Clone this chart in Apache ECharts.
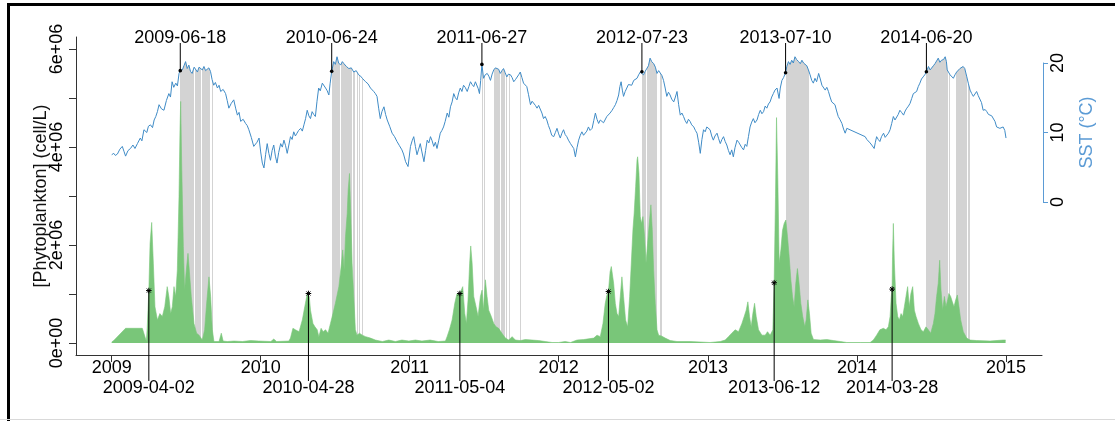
<!DOCTYPE html>
<html>
<head>
<meta charset="utf-8">
<script src="https://cdn.jsdelivr.net/npm/echarts@6/dist/echarts.min.js"></script>
<style>
  html, body { margin: 0; padding: 0; background: #fff; overflow: hidden; }
  #chart { position: absolute; left: 0; top: 0; width: 1115px; height: 421px; }
  #frame { position: absolute; left: 7px; top: 3px; width: 1200px; height: 430px;
           border-top: 3px solid #000; border-left: 3px solid #000; pointer-events: none; }
  #bottomLine { position: absolute; left: 0; top: 419px; width: 1115px; height: 1px; background: #d9d9d9; }
</style>
</head>
<body>
<div id="chart"></div>
<div id="frame"></div>
<div id="bottomLine"></div>
<script>
// ---------------- DATA (x = days since 2009-01-01) ----------------
const originDate = '2009-01-01';
const yearLabels = ['2009', '2010', '2011', '2012', '2013', '2014', '2015'];

// Sea surface temperature, °C : [day, value]
const sst = [
[0,6.8],[5,7.0],[9,6.7],[14,6.9],[20,7.6],[26,8.0],[30,7.3],[34,6.6],[40,7.4],[46,7.7],[52,8.2],[57,7.7],[63,8.4],[70,9.2],[74,8.8],[79,10.4],[86,10.0],[90,10.9],[95,11.1],[100,10.7],[104,11.8],[108,12.3],[112,13.0],[116,14.0],[122,13.4],[128,13.2],[134,14.6],[140,15.6],[144,15.1],[148,17.3],[152,16.5],[157,17.1],[161,16.7],[165,18.5],[168,18.9],[173,19.0],[177,19.6],[181,20.2],[185,19.2],[189,19.7],[193,18.8],[197,18.5],[202,19.4],[206,19.2],[210,18.7],[214,19.4],[218,19.2],[222,19.0],[226,19.5],[230,18.9],[234,19.0],[238,19.3],[242,18.8],[246,17.6],[250,16.8],[254,17.2],[259,16.4],[263,16.8],[267,15.9],[273,16.2],[279,15.6],[283,14.6],[287,13.5],[293,14.2],[299,14.7],[304,13.4],[308,12.5],[312,12.9],[316,11.6],[322,11.9],[328,11.3],[332,11.0],[336,10.4],[342,9.3],[348,8.0],
[352,8.0],[356,8.6],[361,9.2],[365,7.2],[369,5.6],[373,4.9],[377,6.8],[381,8.4],[385,7.0],[389,6.0],[393,7.4],[397,8.2],[401,6.6],[405,5.6],[409,7.1],[414,8.4],[418,7.9],[422,8.9],[426,8.1],[430,7.0],[434,8.2],[438,9.4],[442,9.0],[446,10.1],[450,9.5],[454,9.9],[458,10.3],[463,10.6],[467,10.2],[471,11.1],[475,12.0],[479,13.2],[483,12.4],[487,12.0],[491,13.0],[495,12.6],[499,12.3],[503,14.5],[507,16.4],[511,16.0],[516,17.1],[520,16.9],[524,16.4],[528,16.0],[532,15.4],[535,17.0],[539,18.8],[544,20.2],[548,19.8],[552,20.9],[556,20.0],[561,19.7],[565,20.2],[569,19.9],[575,19.5],[581,19.2],[587,19.3],[593,18.7],[599,18.9],[605,18.3],[610,18.1],[614,17.8],[618,17.9],[622,17.3],[628,17.0],[634,16.4],[638,16.6],[642,15.9],[646,15.6],[650,15.2],[654,13.5],[658,12.0],[662,13.0],[667,13.7],[671,12.6],[675,11.8],[681,10.9],[687,9.9],[693,9.4],[699,8.7],[705,8.1],[711,7.5],[715,6.9],
[720,5.8],[726,5.1],[732,8.0],[736,8.8],[740,9.4],[744,8.0],[748,6.8],[752,7.6],[756,8.4],[760,7.2],[765,5.8],[769,7.4],[773,8.9],[777,8.5],[781,9.4],[785,8.8],[789,8.0],[793,8.6],[797,7.7],[801,8.8],[805,9.9],[809,10.3],[813,10.8],[817,11.6],[822,12.8],[826,12.2],[830,13.7],[834,14.4],[838,15.6],[842,15.0],[846,14.7],[850,15.7],[854,16.4],[858,15.9],[862,16.8],[866,16.5],[871,15.9],[875,16.6],[879,17.3],[883,16.9],[887,16.6],[891,17.3],[895,17.1],[898,16.3],[901,15.6],[904,17.5],[907,19.8],[911,17.8],[915,18.3],[920,18.5],[924,18.1],[928,17.5],[932,18.4],[936,19.0],[940,19.3],[944,19.5],[948,19.1],[952,18.5],[956,18.9],[960,19.2],[964,18.6],[968,18.0],[972,18.4],[977,18.3],[981,17.9],[985,17.3],[989,17.6],[993,17.8],[997,18.3],[1001,18.7],[1005,17.9],[1009,17.1],[1013,16.9],[1017,16.6],[1021,15.5],[1026,14.0],[1030,14.5],[1034,14.7],[1038,13.9],[1042,13.5],[1046,13.9],[1050,13.7],[1054,12.8],[1058,12.0],[1062,12.3],[1066,11.8],[1070,11.0],[1074,10.4],[1078,9.6],
[1083,9.4],[1087,10.0],[1091,10.6],[1095,9.8],[1099,9.2],[1103,9.9],[1107,10.4],[1111,9.7],[1115,9.4],[1119,8.9],[1124,8.4],[1128,8.2],[1132,7.7],[1136,6.5],[1140,7.8],[1144,8.9],[1148,9.6],[1152,10.1],[1156,9.6],[1160,9.4],[1164,10.2],[1168,10.8],[1172,10.3],[1177,10.6],[1181,11.7],[1185,12.8],[1189,11.9],[1193,11.3],[1197,11.8],[1201,12.0],[1205,11.4],[1209,11.6],[1213,12.3],[1217,12.5],[1221,12.8],[1226,13.2],[1230,13.6],[1234,14.0],[1238,14.6],[1242,15.4],[1245,16.6],[1248,17.3],[1251,16.1],[1254,15.2],[1258,15.9],[1262,16.4],[1266,16.9],[1270,17.1],[1274,16.8],[1279,17.5],[1283,17.3],[1287,17.8],[1291,18.3],[1295,18.7],[1299,18.75],[1303,18.3],[1307,18.8],[1311,19.0],[1315,19.6],[1319,20.7],[1323,20.2],[1328,19.9],[1332,19.4],[1336,18.5],[1340,18.9],[1344,18.7],[1348,18.2],[1352,17.5],[1356,16.4],[1360,15.2],[1364,15.8],[1368,15.4],[1372,14.8],[1377,14.4],[1381,15.1],[1385,15.9],[1389,14.0],[1393,12.5],[1397,12.8],[1401,12.3],[1405,11.7],[1409,11.3],[1413,11.9],[1417,11.6],[1421,11.1],[1426,10.8],[1430,10.3],[1434,9.9],[1438,8.6],[1442,7.0],[1446,9.0],[1450,10.4],[1454,10.1],[1458,10.8],[1462,10.6],[1466,10.4],[1470,9.5],
[1474,8.9],[1478,9.5],[1483,9.9],[1487,9.1],[1491,8.4],[1495,9.0],[1499,9.4],[1503,8.7],[1507,8.2],[1511,7.4],[1515,6.8],[1519,7.5],[1523,6.5],[1527,7.8],[1532,8.9],[1536,8.6],[1540,8.2],[1544,7.8],[1548,7.5],[1552,8.3],[1556,8.0],[1560,9.4],[1564,10.8],[1568,11.5],[1572,12.0],[1576,11.4],[1581,11.8],[1585,12.6],[1589,13.2],[1593,12.7],[1597,13.0],[1601,13.8],[1605,13.5],[1609,14.1],[1613,14.4],[1617,15.1],[1621,15.6],[1625,16.1],[1630,16.4],[1635,14.9],[1638,16.4],[1642,17.5],[1646,17.9],[1651,18.6],[1654,19.5],[1658,20.2],[1662,19.8],[1666,20.4],[1670,20.0],[1674,20.9],[1678,20.5],[1683,20.2],[1687,19.9],[1691,20.4],[1695,20.0],[1699,19.9],[1703,19.6],[1707,19.0],[1711,18.3],[1715,17.5],[1719,17.1],[1723,17.8],[1727,17.3],[1732,18.5],[1736,17.7],[1740,16.8],[1744,16.6],[1748,16.1],[1752,16.5],[1756,15.9],[1760,15.1],[1764,14.4],[1768,14.6],[1772,14.0],[1776,13.1],[1780,12.3],[1784,11.9],[1789,11.3],[1793,10.5],[1797,9.9],[1801,10.6],
[1846,9.4],[1850,9.0],[1854,8.9],[1858,8.5],[1862,8.2],[1865,8.0],[1868,7.7],[1871,8.6],[1874,9.4],[1878,9.0],[1882,8.7],[1886,9.4],[1891,9.9],[1895,9.3],[1899,9.4],[1903,9.9],[1907,10.4],[1911,11.3],[1915,12.3],[1919,11.8],[1923,11.8],[1927,12.6],[1931,13.2],[1935,12.9],[1940,12.5],[1944,13.1],[1948,13.5],[1952,13.8],[1956,14.2],[1960,14.9],[1964,15.6],[1968,15.4],[1972,15.9],[1976,16.6],[1980,17.1],[1984,17.7],[1988,18.0],[1992,18.3],[1996,18.75],[2001,19.5],[2005,19.0],[2009,19.2],[2013,19.6],[2017,19.9],[2021,20.3],[2025,20.7],[2029,20.1],[2033,20.4],[2038,20.5],[2042,20.9],[2045,20.2],[2047,19.0],[2050,18.7],[2054,18.3],[2058,18.1],[2062,17.8],[2066,18.3],[2070,18.7],[2074,18.9],[2078,19.2],[2082,19.0],[2086,19.5],[2090,19.2],[2095,18.0],[2099,17.0],[2103,16.1],[2107,15.6],[2111,15.2],[2115,15.4],[2119,15.9],[2123,15.3],[2127,15.4],[2131,14.3],[2135,13.2],[2140,13.3],[2144,13.0],[2148,12.6],[2152,12.8],[2156,12.4],[2160,12.5],[2164,11.6],[2168,10.8],[2172,10.9],[2176,10.6],[2180,10.5],[2184,10.8],[2188,10.3],[2191,9.2]
];

// Phytoplankton, millions of cells/L : [day, value]
const phytoMillion = [
[0,0.02],[5,0.05],[34,0.3],[75,0.3],[85,0.03],[87,0.3],[91,1.07],[94,2.03],[98,2.46],[102,1.63],[106,0.74],[112,0.47],[118,0.6],[124,0.54],[130,0.74],[136,1.15],[140,0.95],[144.5,0.6],[148.5,0.74],[152.6,1.15],[156.7,0.95],[160.8,1.49],[164.9,2.99],[167.3,4.35],[169,4.93],[171.4,3.67],[175.5,1.97],[178.7,1.08],[182.8,1.49],[186.9,1.83],[190.2,1.86],[195,0.95],[201.6,0.4],[208,0.2],[214,0.16],[222,0.06],[227.7,0.27],[232.6,0.81],[238.3,1.35],[242.4,0.95],[246.5,0.27],[250.5,0.03],[263,0.03],[268.5,0.2],[273,0.04],[283,0.03],[300,0.04],[320,0.03],[340,0.05],[360,0.04],
[390,0.03],[397,0.08],[404,0.03],[434,0.04],[438,0.1],[444,0.3],[450,0.27],[459,0.23],[467,0.47],[473,0.74],[479,1.0],[482,1.01],[484,0.95],[487,0.67],[493,0.4],[498,0.33],[503.5,0.27],[507.5,0.13],[513,0.3],[518,0.23],[524,0.27],[530,0.2],[536,0.4],[542,0.6],[548,0.81],[556.5,1.15],[563,1.63],[566,1.9],[569.6,1.49],[572.8,2.17],[577,2.65],[579.3,3.12],[582.6,3.46],[585.9,2.58],[589,1.63],[593,0.95],[597,0.27],[601,0.16],[607,0.2],[614,0.16],[622,0.13],[634,0.1],[646,0.06],[663,0.03],[679,0.06],[695,0.03],[711,0.06],[728,0.04],[744,0.06],
[760,0.04],[780,0.06],[800,0.03],[817.6,0.04],[821.7,0.13],[827.4,0.27],[834,0.47],[840.5,0.81],[846,1.01],[853,1.01],[856,1.0],[860,1.15],[865,0.6],[869,0.4],[873,0.88],[877,1.63],[879.6,1.98],[883,1.63],[887,0.95],[892.7,0.74],[897.6,0.54],[903.3,0.95],[907.4,1.08],[910.6,0.67],[915.5,1.29],[919.6,0.95],[923.7,0.67],[930,0.54],[936,0.4],[941.6,0.33],[948,0.3],[956,0.2],[964.5,0.1],[972.7,0.06],[981,0.13],[989,0.06],[1001,0.05],[1013.5,0.07],[1030,0.06],[1046,0.05],[1062,0.03],[1079,0.01],[1095,0.01],[1111,0.03],
[1124,0.01],[1140,0.06],[1156,0.07],[1181,0.1],[1189,0.16],[1197,0.13],[1203.6,0.4],[1209,0.8],[1213,0.97],[1217,1.05],[1221,1.45],[1224,1.56],[1229.7,1.22],[1233.8,0.81],[1238,0.6],[1242,0.54],[1246,0.95],[1250,1.35],[1254,0.95],[1259,0.47],[1264,0.33],[1269,0.95],[1273,1.63],[1277,2.31],[1280,2.65],[1283.6,3.19],[1287,3.73],[1288.5,3.8],[1291.8,3.46],[1295,2.58],[1298,2.44],[1301.5,2.58],[1305.6,2.17],[1309,1.63],[1313,2.03],[1317,2.44],[1321,2.82],[1324.4,2.31],[1327.7,1.49],[1331.7,0.81],[1336,0.27],[1340,0.16],[1348,0.14],[1356,0.1],[1368.5,0.05],[1385,0.03],[1417,0.03],[1466,0.01],
[1491,0.03],[1503,0.06],[1511,0.13],[1519,0.2],[1527.6,0.27],[1535.7,0.23],[1544,0.4],[1549.6,0.54],[1554.5,0.67],[1558.6,0.84],[1562.7,0.54],[1566.7,0.33],[1570.8,0.6],[1575,0.81],[1579,0.54],[1584.7,0.27],[1593,0.16],[1601,0.16],[1606.7,0.23],[1613.3,0.16],[1619.8,0.27],[1623,1.23],[1626.3,2.99],[1628.8,4.6],[1632,3.33],[1635.3,1.63],[1639.4,1.9],[1643.5,2.3],[1647.5,2.44],[1651.6,2.51],[1655.7,2.17],[1659.8,1.76],[1663.9,1.29],[1668,0.95],[1672,0.74],[1676,1.22],[1680,1.52],[1684,1.22],[1688.3,0.81],[1693,0.54],[1698,0.33],[1701.4,0.47],[1705.5,0.88],[1709.5,0.6],[1713.6,0.2],[1719.3,0.07],[1736,0.06],[1752,0.07],[1768,0.05],[1785,0.03],[1801,0.01],[1834,0.01],
[1858,0.01],[1866,0.06],[1874,0.16],[1882,0.27],[1890.6,0.3],[1897,0.27],[1902.8,0.33],[1907,0.54],[1910,0.95],[1912,1.1],[1913,1.76],[1915,2.44],[1917.5,1.63],[1921.6,0.81],[1925.7,0.54],[1929.8,0.47],[1933.8,0.6],[1938,0.54],[1942,0.74],[1946,0.95],[1950,1.15],[1954,0.74],[1958,1.01],[1962.4,1.15],[1966.5,0.67],[1970.6,0.54],[1976.3,0.4],[1982.8,0.27],[1988.5,0.23],[1995,0.33],[2000.8,0.27],[2006.5,0.2],[2013,0.4],[2017,0.6],[2021,0.95],[2025,1.22],[2028.5,1.69],[2031.8,1.08],[2035.8,0.67],[2040,0.95],[2044,0.74],[2048,0.88],[2051,1.01],[2055.4,0.95],[2059.5,0.84],[2063.6,0.74],[2067.7,0.88],[2071.8,0.98],[2075.8,0.74],[2080,0.47],[2086.4,0.23],[2094.6,0.1],[2103,0.06],[2119,0.05],[2152,0.04],[2184,0.06],[2190,0.06]
];

// Heatwave periods [startDay, endDay]
const heatwaves = [
[168,201],[205,218],[222,240],[245,249],
[539,560],[563,589],[592,597],[601,603],[607,609],[613,615],
[907,909],[912,915],[936,952],[954,964],[966,968],[974,976],[1000,1002],
[1299,1309],[1311,1337],[1343,1347],
[1651,1709],
[1996,2049],[2052,2055],[2068,2095],[2098,2103]
];

// Heatwave onset annotations (top) and bloom onset annotations (bottom)
const hwStartDates = ['2009-06-18', '2010-06-24', '2011-06-27', '2012-07-23', '2013-07-10', '2014-06-20'];
const hwStartSST   = [18.9, 18.8, 19.8, 18.75, 18.6, 18.75];
const bloomDates   = ['2009-04-02', '2010-04-28', '2011-05-04', '2012-05-02', '2013-06-12', '2014-03-28'];
const bloomValues  = [1.07, 1.01, 1.01, 1.05, 1.23, 1.1];

const phytoTicks = [0, 1, 2, 3, 4, 5, 6];
const phytoLabelValues = [0, 2, 4, 6];
const phytoLabels = ['0e+00', '2e+06', '4e+06', '6e+06'];
const sstTicks = [0, 10, 20];

// ---------------- helpers / layout ----------------
function dayOf(s) {
  const p = s.split('-').map(Number), o = originDate.split('-').map(Number);
  return (Date.UTC(p[0], p[1] - 1, p[2]) - Date.UTC(o[0], o[1] - 1, o[2])) / 86400000;
}
const yearTickDays = yearLabels.map(y => dayOf(y + '-01-01'));

// layout (pixels)
const plotTop = 37, plotBottom = 355, plotLeft = 76, plotRight = 1042;
const phyto0Y = 343, phyto6Y = 49;
const sst0Y = 202, sst20Y = 63;
const pxPerDay = (1006 - 111.7) / 2191;
const xMin = -(111.7 - plotLeft) / pxPerDay;
const xMax = (plotRight - 111.7) / pxPerDay;
const phytoPx = (phyto0Y - phyto6Y) / 6;
const pMin = -(plotBottom - phyto0Y) / phytoPx;
const pMax = 6 + (phyto6Y - plotTop) / phytoPx;
const sstPx = (sst0Y - sst20Y) / 20;
const sMin = -(plotBottom - sst0Y) / sstPx;
const sMax = 20 + (sst20Y - plotTop) / sstPx;
const sstAtPhytoZero = sMin + (plotBottom - phyto0Y) / sstPx;

const FONT = 'Liberation Sans, Arial, sans-serif';
const GREEN = '#79C679';
const BLUE = '#3F8BC6';
const BLUE_AXIS = '#5B9BD5';
const GRAY = '#D3D3D3';

const chart = echarts.init(document.getElementById('chart'), null, { renderer: 'canvas' });

const option = {
  animation: false,
  backgroundColor: 'transparent',
  grid: [
    { left: plotLeft, right: 1115 - plotRight, top: plotTop, bottom: 421 - plotBottom, containLabel: false, outerBoundsMode: 'none' },
    { left: 1000, right: 1115 - plotRight - 1, top: sst20Y, bottom: 421 - sst0Y, containLabel: false, outerBoundsMode: 'none' }
  ],
  xAxis: [
    {
      type: 'value', gridIndex: 0, min: xMin, max: xMax,
      axisLine: { show: true, onZero: false, lineStyle: { color: '#333', width: 1 } },
      axisTick: { show: true, length: 7, customValues: yearTickDays, lineStyle: { color: '#333' } },
      axisLabel: {
        show: true, customValues: yearTickDays, margin: 4,
        formatter: v => yearLabels[yearTickDays.indexOf(v)] || '',
        color: '#000', fontSize: 18, fontFamily: FONT
      },
      splitLine: { show: false }
    },
    { type: 'value', gridIndex: 1, min: 0, max: 1, show: false }
  ],
  yAxis: [
    {
      type: 'value', gridIndex: 0, min: pMin, max: pMax, position: 'left',
      name: '[Phytoplankton] (cell/L)', nameLocation: 'middle', nameGap: 26, nameRotate: 90,
      nameMoveOverlap: false,
      nameTextStyle: { color: '#111', fontSize: 18, fontFamily: FONT },
      axisLine: { show: true, onZero: false, lineStyle: { color: '#333', width: 1 } },
      axisTick: { show: true, length: 7, customValues: phytoTicks, lineStyle: { color: '#333' } },
      axisLabel: {
        show: true, customValues: phytoLabelValues, rotate: 90, margin: 10,
        formatter: v => phytoLabels[phytoLabelValues.indexOf(v)] || '',
        color: '#000', fontSize: 18, fontFamily: FONT
      },
      splitLine: { show: false }
    },
    { type: 'value', gridIndex: 0, min: sMin, max: sMax, show: false },
    {
      type: 'value', gridIndex: 1, min: 0, max: 20, position: 'right',
      name: 'SST (°C)', nameLocation: 'middle', nameGap: 35, nameRotate: 90,
      nameMoveOverlap: false,
      nameTextStyle: { color: BLUE_AXIS, fontSize: 18, fontFamily: FONT },
      axisLine: { show: true, onZero: false, lineStyle: { color: BLUE_AXIS, width: 1 } },
      axisTick: { show: true, length: 5, customValues: sstTicks, lineStyle: { color: BLUE_AXIS } },
      axisLabel: {
        show: true, customValues: sstTicks, rotate: 90, margin: 6,
        color: '#000', fontSize: 18, fontFamily: FONT
      },
      splitLine: { show: false }
    }
  ],
  visualMap: [{
    type: 'piecewise', show: false, seriesIndex: 0, dimension: 0,
    pieces: heatwaves.map(h => ({ min: h[0], max: h[1], color: GRAY })),
    outOfRange: { color: 'rgba(211,211,211,0)' }
  }],
  series: [
    { // heatwave shading under the SST curve
      type: 'line', xAxisIndex: 0, yAxisIndex: 1, data: sst,
      showSymbol: false, symbol: 'none', silent: true,
      lineStyle: { width: 0, opacity: 0 },
      areaStyle: { opacity: 1, origin: sstAtPhytoZero },
      z: 1
    },
    { // phytoplankton
      type: 'line', xAxisIndex: 0, yAxisIndex: 0, data: phytoMillion,
      showSymbol: false, symbol: 'none', silent: true,
      lineStyle: { color: GREEN, width: 0.6 },
      itemStyle: { color: GREEN },
      areaStyle: { color: GREEN, opacity: 1 },
      z: 2
    },
    { // SST line
      type: 'line', xAxisIndex: 0, yAxisIndex: 1, data: sst,
      showSymbol: false, symbol: 'none', silent: true,
      lineStyle: { color: BLUE, width: 1 },
      itemStyle: { color: BLUE },
      z: 3
    },
    { // heatwave onset annotations
      type: 'custom', xAxisIndex: 0, yAxisIndex: 1, silent: true, z: 5,
      data: hwStartDates.map((d, i) => [dayOf(d), hwStartSST[i]]),
      renderItem: function (params, api) {
        const p = api.coord([api.value(0), api.value(1)]);
        const cs = params.coordSys;
        return {
          type: 'group',
          children: [
            { type: 'line', shape: { x1: p[0], y1: cs.y + 6, x2: p[0], y2: p[1] }, style: { stroke: '#000', lineWidth: 1 } },
            { type: 'circle', shape: { cx: p[0], cy: p[1], r: 1.8 }, style: { fill: '#000' } },
            { type: 'text', style: { text: hwStartDates[params.dataIndex], x: p[0], y: cs.y + 1, align: 'center', verticalAlign: 'middle', font: '18px ' + FONT, fill: '#000' } }
          ]
        };
      }
    },
    { // bloom onset annotations
      type: 'custom', xAxisIndex: 0, yAxisIndex: 0, silent: true, z: 5,
      data: bloomDates.map((d, i) => [dayOf(d), bloomValues[i]]),
      renderItem: function (params, api) {
        const p = api.coord([api.value(0), api.value(1)]);
        const cs = params.coordSys;
        const r = 2.8, q = 2.0;
        const st = { stroke: '#000', lineWidth: 1 };
        return {
          type: 'group',
          children: [
            { type: 'line', shape: { x1: p[0], y1: p[1], x2: p[0], y2: cs.y + cs.height + 26 }, style: st },
            { type: 'line', shape: { x1: p[0] - r, y1: p[1], x2: p[0] + r, y2: p[1] }, style: st },
            { type: 'line', shape: { x1: p[0], y1: p[1] - r, x2: p[0], y2: p[1] + r }, style: st },
            { type: 'line', shape: { x1: p[0] - q, y1: p[1] - q, x2: p[0] + q, y2: p[1] + q }, style: st },
            { type: 'line', shape: { x1: p[0] - q, y1: p[1] + q, x2: p[0] + q, y2: p[1] - q }, style: st },
            { type: 'text', style: { text: bloomDates[params.dataIndex], x: p[0], y: cs.y + cs.height + 33, align: 'center', verticalAlign: 'middle', font: '18px ' + FONT, fill: '#000' } }
          ]
        };
      }
    }
  ]
};
chart.setOption(option);
</script>
</body>
</html>
